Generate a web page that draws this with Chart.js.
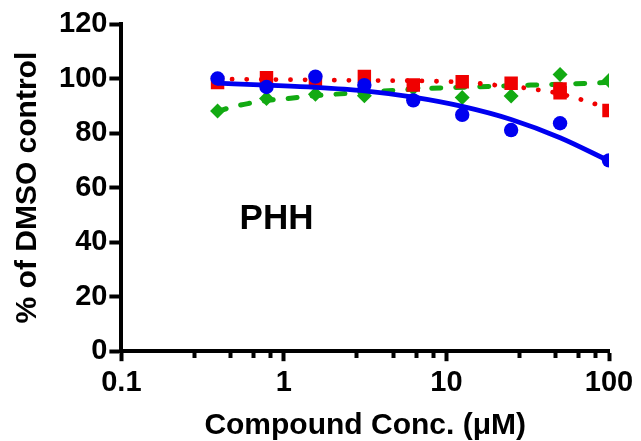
<!DOCTYPE html>
<html>
<head>
<meta charset="utf-8">
<script src="https://cdn.jsdelivr.net/npm/chart.js@4.4.1/dist/chart.umd.min.js"></script>
<style>
  html, body { margin: 0; padding: 0; background: #ffffff; }
  #wrap { width: 641px; height: 441px; }
</style>
</head>
<body>
<div id="wrap"><canvas id="c" width="641" height="441"></canvas></div>
<script>
// ---- data ----
const conc = [0.390625, 0.78125, 1.5625, 3.125, 6.25, 12.5, 25, 50, 100];

const blueValues  = [100.0, 96.9, 100.7, 97.6, 92.0, 86.7, 81.1, 83.6, 70.0];
const redConc     = [0.390625, 0.78125, 1.5625, 3.125, 6.25, 12.5, 25, 50, 50, 100];
const redValues   = [98.5, 100.3, 99.0, 100.8, 97.6, 98.8, 98.3, 96.2, 94.8, 88.3];
const greenValues = [88.1, 92.7, 94.2, 93.7, 96.5, 93.0, 93.6, 101.5, 99.3];

// fitted curves
const blueCurveX  = [0.39, 0.78, 1.56, 3.13, 6.25, 12.5, 25, 50, 100];
const blueCurveY  = [98.3, 97.6, 96.8, 95.5, 93.2, 89.8, 85.0, 78.3, 69.8];
const redCurveX   = [0.39, 1, 3, 10, 16, 20, 30, 38, 47, 69, 84, 100];
const redCurveY   = [99.8, 99.6, 99.3, 98.9, 98.2, 97.6, 96.6, 95.7, 94.8, 92.1, 90.5, 89.2];
const greenCurveX = [0.39, 0.5, 0.6, 0.8, 1.1, 1.4, 2, 4, 8, 16, 33, 50, 70, 100];
const greenCurveY = [88.0, 89.8, 90.8, 92.0, 92.8, 93.5, 94.2, 95.4, 96.4, 97.0, 97.6, 97.9, 98.2, 98.6];

const xMajorTicks = [0.1, 1, 10, 100];
const xTickLabels = ['0.1', '1', '10', '100'];
const xMinorTicks = [0.28, 0.47, 0.65, 0.83, 2.8, 4.7, 6.5, 8.3, 28, 47, 65, 83];
const yTicks = [0, 20, 40, 60, 80, 100, 120];
const xTitle = 'Compound Conc. (\u03BCM)';
const yTitle = '% of DMSO control';
const panelLabel = 'PHH';

// ---- styles ----
const BLUE = '#0000f0', RED = '#f00000', GREEN = '#12aa12';
const FONT = "'Liberation Sans', Arial, Helvetica, sans-serif";

const pts = (xs, ys) => xs.map((x, i) => ({ x: x, y: ys[i] }));

const labelPlugin = {
  id: 'panelLabel',
  afterDatasetsDraw(chart) {
    const { ctx, scales } = chart;
    ctx.save();
    ctx.font = 'bold 35px ' + FONT;
    ctx.fillStyle = '#000';
    ctx.textAlign = 'center';
    ctx.textBaseline = 'middle';
    ctx.fillText(panelLabel, scales.x.getPixelForValue(0.9), scales.y.getPixelForValue(48.5));
    ctx.restore();
  }
};

new Chart(document.getElementById('c'), {
  type: 'scatter',
  data: {
    datasets: [
      { label: 'blue', data: pts(conc, blueValues), showLine: false,
        pointStyle: 'circle', pointRadius: 7.2, pointHoverRadius: 7.2,
        backgroundColor: BLUE, borderColor: BLUE, borderWidth: 0, order: 0 },
      { label: 'blue fit', data: pts(blueCurveX, blueCurveY), showLine: true,
        pointRadius: 0, borderColor: BLUE, borderWidth: 4.8,
        cubicInterpolationMode: 'monotone', order: 1 },
      { label: 'red', data: pts(redConc, redValues), showLine: false,
        pointStyle: 'rect', pointRadius: 9.5, pointHoverRadius: 9.5,
        backgroundColor: RED, borderColor: RED, borderWidth: 0, order: 2 },
      { label: 'red fit', data: pts(redCurveX, redCurveY), showLine: true,
        pointRadius: 0, borderColor: RED, borderWidth: 4.8,
        borderDash: [0.1, 14.5], borderCapStyle: 'round',
        cubicInterpolationMode: 'monotone', order: 3 },
      { label: 'green', data: pts(conc, greenValues), showLine: false,
        pointStyle: 'rectRot', pointRadius: 7.5, pointHoverRadius: 7.5,
        backgroundColor: GREEN, borderColor: GREEN, borderWidth: 0, order: 4 },
      { label: 'green fit', data: pts(greenCurveX, greenCurveY), showLine: true,
        pointRadius: 0, borderColor: GREEN, borderWidth: 5,
        borderDash: [9, 15], borderCapStyle: 'round',
        cubicInterpolationMode: 'monotone', order: 5 }
    ]
  },
  options: {
    responsive: false,
    animation: false,
    events: [],
    layout: { padding: { left: 10, right: 32, top: 24, bottom: 0 } },
    plugins: { legend: { display: false }, tooltip: { enabled: false } },
    scales: {
      x: {
        type: 'logarithmic', position: 'bottom', min: 0.1, max: 100,
        afterBuildTicks: s => { s.ticks = xMajorTicks.map(v => ({ value: v })); },
        ticks: {
          autoSkip: false, maxRotation: 0, color: '#000', padding: 4,
          font: { family: FONT, size: 29, weight: 'bold' },
          callback: (v) => xTickLabels[xMajorTicks.indexOf(v)] ?? ''
        },
        grid: { display: true, drawOnChartArea: false, drawTicks: true,
                tickLength: 10, tickWidth: 4, tickColor: '#000' },
        border: { display: true, width: 4, color: '#000' },
        title: { display: true, text: xTitle, color: '#000', padding: { top: 7, bottom: 0 },
                 font: { family: FONT, size: 30, weight: 'bold', lineHeight: 1.0 } }
      },
      xMinor: {
        type: 'logarithmic', axis: 'x', position: { y: 0 }, min: 0.1, max: 100,
        afterBuildTicks: s => { s.ticks = xMinorTicks.map(v => ({ value: v })); },
        ticks: { display: false },
        grid: { display: true, drawOnChartArea: false, drawTicks: true,
                tickLength: 7, tickWidth: 4, tickColor: '#000' },
        border: { display: false }
      },
      y: {
        min: 0, max: 120,
        afterBuildTicks: s => { s.ticks = yTicks.map(v => ({ value: v })); },
        ticks: { color: '#000', padding: 2,
                 font: { family: FONT, size: 29, weight: 'bold' } },
        grid: { display: true, drawOnChartArea: false, drawTicks: true,
                tickLength: 12, tickWidth: 4, tickColor: '#000' },
        border: { display: true, width: 4, color: '#000' },
        title: { display: true, text: yTitle, color: '#000', padding: { top: 0, bottom: 11 },
                 font: { family: FONT, size: 30, weight: 'bold' } }
      }
    }
  },
  plugins: [labelPlugin]
});
</script>
</body>
</html>
